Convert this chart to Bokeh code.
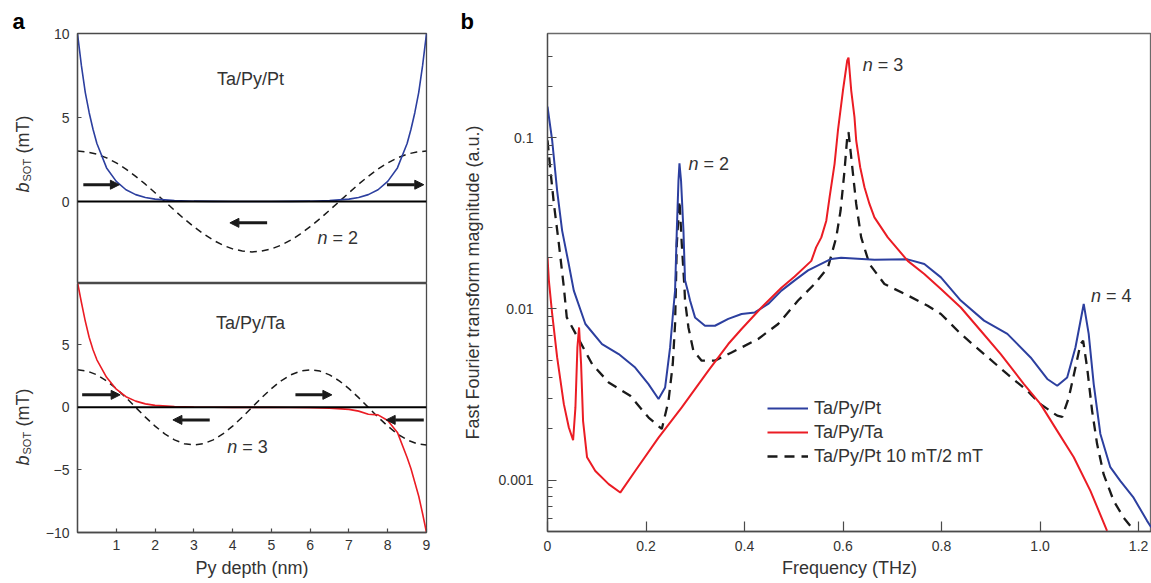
import math
from bokeh.plotting import figure
from bokeh.layouts import row, column
from bokeh.models import (Range1d, FixedTicker, Label, Arrow, NormalHead, Span,
                          Legend, LegendItem, ColumnDataSource)
from bokeh.embed import file_html
from bokeh.resources import INLINE

FONT = "Liberation Sans"
TXT = "#333333"
AX = "#4a4a4a"
BLUE = "#2c3f9f"
RED = "#eb1c24"
BLK = "#1a1a1a"

# ---------------- panel a data ----------------
depth_exp = [0, 0.1, 0.2, 0.3, 0.4, 0.5, 0.75, 1, 1.25, 1.5, 1.75, 2, 2.5, 3, 3.5, 4, 4.5,
             5, 5.5, 6, 6.5, 7, 7.25, 7.5, 7.75, 8, 8.25, 8.5, 8.6, 8.7, 8.8, 8.9, 9]
bsot_pt = [10, 8.1, 6.5, 5.3, 4.3, 3.45, 2.0, 1.2, 0.7, 0.41, 0.24, 0.14, 0.05, 0.02, 0.01, 0, 0,
           0, 0.01, 0.02, 0.05, 0.14, 0.24, 0.41, 0.7, 1.2, 2.0, 3.45, 4.3, 5.3, 6.5, 8.1, 10]
bsot_ta = [10, 8.4, 6.9, 5.6, 4.6, 3.8, 2.4, 1.45, 0.85, 0.5, 0.28, 0.16, 0.06, 0.02, 0.01, 0, 0,
           0, -0.01, -0.02, -0.06, -0.16, -0.3, -0.55, -0.6, -1.05, -2.0, -4.0, -4.9, -6.0, -7.1, -8.5, -10]

depth_cos = [0, 0.25, 0.5, 0.75, 1, 1.25, 1.5, 1.75, 2, 2.25, 2.5, 2.75, 3, 3.25, 3.5, 3.75,
             4, 4.25, 4.5, 4.75, 5, 5.25, 5.5, 5.75, 6, 6.25, 6.5, 6.75, 7, 7.25, 7.5, 7.75,
             8, 8.25, 8.5, 8.75, 9]
mode_n2 = [3.0, 2.95, 2.82, 2.6, 2.3, 1.93, 1.5, 1.03, 0.52, 0, -0.52, -1.03, -1.5, -1.93, -2.3,
           -2.6, -2.82, -2.95, -3.0, -2.95, -2.82, -2.6, -2.3, -1.93, -1.5, -1.03, -0.52, 0,
           0.52, 1.03, 1.5, 1.93, 2.3, 2.6, 2.82, 2.95, 3.0]
mode_n3 = [3.0, 2.9, 2.6, 2.12, 1.5, 0.78, 0, -0.78, -1.5, -2.12, -2.6, -2.9, -3.0, -2.9, -2.6,
           -2.12, -1.5, -0.78, 0, 0.78, 1.5, 2.12, 2.6, 2.9, 3.0, 2.9, 2.6, 2.12, 1.5, 0.78, 0,
           -0.78, -1.5, -2.12, -2.6, -2.9, -3.0]

arrows_top = dict(xs=[0.15, 7.98, 4.89], xe=[1.08, 8.93, 3.93], y=[1.0, 1.0, -1.27])
arrows_bot = dict(xs=[0.12, 3.41, 5.62, 8.93], xe=[1.1, 2.46, 6.56, 7.96], y=[1.0, -1.0, 1.0, -1.0])

# ---------------- panel b data ----------------
freq_pt = [0, 0.0095, 0.0196, 0.0297, 0.042, 0.0534, 0.0769, 0.1107, 0.1445, 0.178, 0.205,
           0.2254, 0.2388, 0.2489, 0.2558, 0.259, 0.2625, 0.2659, 0.2679, 0.2711, 0.276,
           0.2792, 0.2847, 0.2894, 0.2995, 0.3197, 0.34, 0.367, 0.394, 0.4209, 0.448, 0.4749,
           0.5018, 0.529, 0.576, 0.596, 0.6637, 0.731, 0.765, 0.7987, 0.839, 0.8863, 0.9336,
           0.9808, 1.0146, 1.0348, 1.055, 1.0718, 1.0886, 1.0987, 1.1089, 1.1224, 1.1426,
           1.1628, 1.1898, 1.2169, 1.2256]
fft_pt = [0.152, 0.0965, 0.049, 0.0287, 0.019, 0.0128, 0.00817, 0.00624, 0.00545, 0.00455,
          0.00364, 0.00298, 0.00348, 0.00596, 0.0102, 0.0128, 0.0287, 0.0563, 0.071, 0.0563,
          0.0287, 0.0147, 0.0128, 0.0112, 0.00893, 0.00798, 0.00798, 0.00875, 0.00935, 0.00955,
          0.0107, 0.0128, 0.0147, 0.0168, 0.0196, 0.0199, 0.0194, 0.0195, 0.0183, 0.0153,
          0.0112, 0.00855, 0.00715, 0.00521, 0.0039, 0.00356, 0.00398, 0.00596, 0.0107,
          0.00715, 0.00364, 0.00186, 0.00119, 0.00099, 0.00079, 0.00058, 0.00053]

freq_ta = [0, 0.0028, 0.0095, 0.0196, 0.0332, 0.0433, 0.052, 0.0567, 0.0607, 0.0641, 0.0682,
           0.0722, 0.0803, 0.0971, 0.1242, 0.1477, 0.178, 0.2254, 0.2726, 0.3266, 0.367, 0.394,
           0.4344, 0.4749, 0.5018, 0.5356, 0.5453, 0.5559, 0.566, 0.5727, 0.5828, 0.5896,
           0.5998, 0.6085, 0.6111, 0.6166, 0.6232, 0.6267, 0.6348, 0.6435, 0.6536, 0.6637,
           0.6908, 0.7313, 0.7649, 0.7987, 0.8391, 0.8796, 0.9201, 0.9672, 1.001, 1.0348,
           1.0684, 1.1022, 1.136]
fft_ta = [0.02, 0.01466, 0.00935, 0.00521, 0.00278, 0.00203, 0.00171, 0.00266, 0.00596, 0.0078,
          0.00476, 0.00222, 0.00136, 0.00113, 0.000948, 0.000846, 0.00113, 0.00177, 0.00266,
          0.00436, 0.00624, 0.00764, 0.0102, 0.0133, 0.0155, 0.0191, 0.0229, 0.0262, 0.0328,
          0.045, 0.0705, 0.110, 0.189, 0.283, 0.294, 0.189, 0.132, 0.0965, 0.0673, 0.0514,
          0.0411, 0.0343, 0.0262, 0.0191, 0.016, 0.0131, 0.0102, 0.00746, 0.00545, 0.00364,
          0.00278, 0.00194, 0.00136, 0.000865, 0.000506]

freq_pt_low = [0, 0.006, 0.013, 0.0231, 0.0332, 0.0391, 0.0668, 0.0905, 0.1242, 0.168, 0.2052,
               0.2321, 0.2457, 0.2543, 0.259, 0.2625, 0.2679, 0.2726, 0.278, 0.2792, 0.2861,
               0.2962, 0.313, 0.34, 0.3737, 0.394, 0.4277, 0.4682, 0.5087, 0.5423, 0.5694,
               0.5862, 0.595, 0.603, 0.6085, 0.6111, 0.618, 0.6267, 0.6368, 0.6536, 0.684,
               0.7313, 0.7718, 0.7987, 0.8391, 0.8863, 0.9336, 0.974, 1.001, 1.0348, 1.045,
               1.0583, 1.0718, 1.082, 1.0874, 1.0955, 1.1056, 1.1157, 1.1291, 1.1494, 1.1696,
               1.1886]
fft_pt_low = [0.0965, 0.0644, 0.0411, 0.024, 0.0134, 0.00893, 0.00638, 0.00477, 0.00372,
              0.00311, 0.00232, 0.00199, 0.00291, 0.00477, 0.00817, 0.024, 0.043, 0.024, 0.0134,
              0.0112, 0.0078, 0.0057, 0.00499, 0.00499, 0.00557, 0.00596, 0.00668, 0.00817,
              0.0112, 0.014, 0.0175, 0.0262, 0.0376, 0.0644, 0.101, 0.108, 0.0705, 0.0411,
              0.0262, 0.0183, 0.014, 0.012, 0.01045, 0.00935, 0.00715, 0.00545, 0.00416,
              0.00333, 0.00278, 0.00238, 0.00234, 0.00304, 0.00455, 0.00624, 0.00653, 0.00455,
              0.00254, 0.00163, 0.00108, 0.000757, 0.000604, 0.000517]

series_labels = ["Ta/Py/Pt", "Ta/Py/Ta", "Ta/Py/Pt 10 mT/2 mT"]
freq_ticks = [0, 0.2, 0.4, 0.6, 0.8, 1.0, 1.2]
freq_tick_labels = ["0", "0.2", "0.4", "0.6", "0.8", "1.0", "1.2"]
mag_ticks = [0.001, 0.01, 0.1]
mag_tick_labels = ["0.001", "0.01", "0.1"]
mag_minor = [6e-4, 7e-4, 8e-4, 9e-4, 0.002, 0.003, 0.004, 0.005, 0.006, 0.007, 0.008, 0.009,
             0.02, 0.03, 0.04, 0.05, 0.06, 0.07, 0.08, 0.09, 0.2, 0.3]

ANN = "18px"


def style_axis(ax, tick_in, size="14px"):
    ax.axis_line_color = AX
    ax.axis_line_width = 1.3
    ax.major_tick_line_color = AX
    ax.major_tick_line_width = 1.2
    ax.major_tick_in = tick_in
    ax.major_tick_out = 0
    ax.minor_tick_line_color = None
    ax.major_label_text_font = FONT
    ax.major_label_text_font_size = size
    ax.major_label_text_color = TXT
    ax.axis_label_text_font = FONT
    ax.axis_label_text_font_size = "18px"
    ax.axis_label_text_font_style = "normal"
    ax.axis_label_text_color = TXT


def txt(p, x, y, text, size=ANN, style="normal", align="left", baseline="middle",
        angle=0.0, x_offset=0, color=TXT):
    p.add_layout(Label(x=x, y=y, text=text, text_font=FONT, text_font_size=size,
                       text_font_style=style, text_align=align, text_baseline=baseline,
                       angle=angle, angle_units="rad", x_offset=x_offset, text_color=color))


def add_arrows(p, d):
    src = ColumnDataSource(d)
    p.add_layout(Arrow(x_start="xs", y_start="y", x_end="xe", y_end="y", source=src,
                       line_color=BLK, line_width=3,
                       end=NormalHead(size=9, fill_color=BLK, line_color=BLK, line_width=1)))


def panel_letter(p, letter, offset):
    p.title.text = letter
    p.title.align = "left"
    p.title.offset = offset
    p.title.standoff = 0
    p.title.text_font = FONT
    p.title.text_font_size = "22px"
    p.title.text_font_style = "bold"
    p.title.text_color = "black"
    p.title.text_line_height = 0.6


def make_a(height, yr, border_top, border_bottom):
    p = figure(width=420, height=height, output_backend="svg", toolbar_location=None,
               x_range=Range1d(0, 9), y_range=Range1d(*yr),
               min_border_left=37, min_border_right=34, min_border_top=border_top,
               min_border_bottom=border_bottom)
    p.grid.visible = False
    p.outline_line_color = AX
    p.outline_line_width = 1.3
    p.background_fill_color = "white"
    p.border_fill_color = "white"
    return p


# ---------------- left strip: panel letter + rotated y labels (data y = 583 - screen y) ----
strip = figure(width=40, height=583, output_backend="svg", toolbar_location=None,
               x_range=Range1d(0, 40), y_range=Range1d(52, 550), title="a",
               x_axis_location=None, y_axis_location=None,
               min_border_left=0, min_border_right=0, min_border_top=33, min_border_bottom=52)
panel_letter(strip, "a", 12)
strip.grid.visible = False
strip.outline_line_color = None
strip.background_fill_color = "white"
strip.border_fill_color = "white"
HALF_PI = math.pi / 2
txt(strip, 22, 391, "b", size="18px", style="italic", angle=HALF_PI)
txt(strip, 26, 402, "SOT", size="11px", angle=HALF_PI)
txt(strip, 22, 430, "(mT)", size="18px", angle=HALF_PI)
txt(strip, 22, 118, "b", size="18px", style="italic", angle=HALF_PI)
txt(strip, 26, 129, "SOT", size="11px", angle=HALF_PI)
txt(strip, 22, 157, "(mT)", size="18px", angle=HALF_PI)

# ---------------- panel a (top) ----------------
pa1 = make_a(283, (-4.88, 10), 33, 0)
pa1.xaxis.visible = False
style_axis(pa1.yaxis[0], 4)
pa1.yaxis.ticker = FixedTicker(ticks=[0, 5, 10])
pa1.yaxis.major_label_standoff = 8
pa1.add_layout(Span(location=0, dimension="width", line_color="black", line_width=2))
pa1.line(depth_cos, mode_n2, line_color=BLK, line_width=1.5, line_dash="7 5")
pa1.line(depth_exp, bsot_pt, line_color=BLUE, line_width=1.6)
add_arrows(pa1, arrows_top)
txt(pa1, 4.46, 7.32, "Ta/Py/Pt", align="center")
txt(pa1, 6.19, -2.18, "n", style="italic")
txt(pa1, 6.19, -2.18, "= 2", x_offset=15)

# ---------------- panel a (bottom) ----------------
pa2 = make_a(300, (-10, 9.9), 0, 51)
style_axis(pa2.yaxis[0], 4)
style_axis(pa2.xaxis[0], 4)
pa2.yaxis.ticker = FixedTicker(ticks=[-10, -5, 0, 5])
pa2.yaxis.major_label_overrides = {-10: "\u221210", -5: "\u22125"}
pa2.yaxis.major_label_standoff = 8
pa2.xaxis.ticker = FixedTicker(ticks=[1, 2, 3, 4, 5, 6, 7, 8, 9])
pa2.xaxis.major_label_standoff = 7
pa2.xaxis.axis_label = "Py depth (nm)"
pa2.xaxis.axis_label_standoff = 5
pa2.add_layout(Span(location=0, dimension="width", line_color="black", line_width=2))
pa2.line(depth_cos, mode_n3, line_color=BLK, line_width=1.5, line_dash="7 5")
pa2.line(depth_exp, bsot_ta, line_color=RED, line_width=1.6)
add_arrows(pa2, arrows_bot)
txt(pa2, 4.46, 6.72, "Ta/Py/Ta", align="center")
txt(pa2, 3.86, -3.17, "n", style="italic")
txt(pa2, 3.86, -3.17, "= 3", x_offset=15)

# ---------------- panel b ----------------
pb = figure(width=691, height=583, output_backend="svg", toolbar_location=None,
            y_axis_type="log", x_range=Range1d(0, 1.2262), y_range=Range1d(5.01e-4, 0.407),
            min_border_left=85, min_border_right=0, min_border_top=33, min_border_bottom=52,
            title="b")
panel_letter(pb, "b", -87)
pb.grid.visible = False
pb.outline_line_color = "#6a6a6a"
pb.outline_line_width = 1.3
pb.background_fill_color = "white"
pb.border_fill_color = "white"
style_axis(pb.xaxis[0], 10)
style_axis(pb.yaxis[0], 9)
pb.xaxis.ticker = FixedTicker(ticks=freq_ticks)
pb.xaxis.major_label_overrides = dict(zip(freq_ticks, freq_tick_labels))
pb.xaxis.major_label_standoff = 9
pb.xaxis.axis_label = "Frequency (THz)"
pb.xaxis.axis_label_standoff = 4
pb.yaxis.ticker = FixedTicker(ticks=mag_ticks, minor_ticks=mag_minor)
pb.yaxis.major_label_overrides = dict(zip(mag_ticks, mag_tick_labels))
pb.yaxis.minor_tick_line_color = AX
pb.yaxis.minor_tick_line_width = 1.2
pb.yaxis.minor_tick_in = 5
pb.yaxis.minor_tick_out = 0
pb.yaxis.major_label_standoff = 14
pb.yaxis.axis_label = "Fast Fourier transform magnitude (a.u.)"
pb.yaxis.axis_label_standoff = 12

r_low = pb.line(freq_pt_low, fft_pt_low, line_color=BLK, line_width=2.3, line_dash="10 7")
r_pt = pb.line(freq_pt, fft_pt, line_color=BLUE, line_width=2)
r_ta = pb.line(freq_ta, fft_ta, line_color=RED, line_width=2)

legend = Legend(items=[LegendItem(label=series_labels[0], renderers=[r_pt]),
                       LegendItem(label=series_labels[1], renderers=[r_ta]),
                       LegendItem(label=series_labels[2], renderers=[r_low])],
                location=(220, 63), padding=0, margin=0, spacing=0,
                label_height=24, glyph_height=24, glyph_width=41, label_standoff=6,
                label_text_font=FONT, label_text_font_size=ANN, label_text_color=TXT,
                border_line_color=None, background_fill_alpha=0)
pb.add_layout(legend)

txt(pb, 0.2861, 0.0705, "n", style="italic")
txt(pb, 0.2861, 0.0705, "= 2", x_offset=15)
txt(pb, 0.6402, 0.265, "n", style="italic")
txt(pb, 0.6402, 0.265, "= 3", x_offset=15)
txt(pb, 1.1036, 0.01197, "n", style="italic")
txt(pb, 1.1036, 0.01197, "= 4", x_offset=15)

layout = row(strip, column(pa1, pa2), pb)
open("out.html", "w").write(file_html(layout, INLINE))
